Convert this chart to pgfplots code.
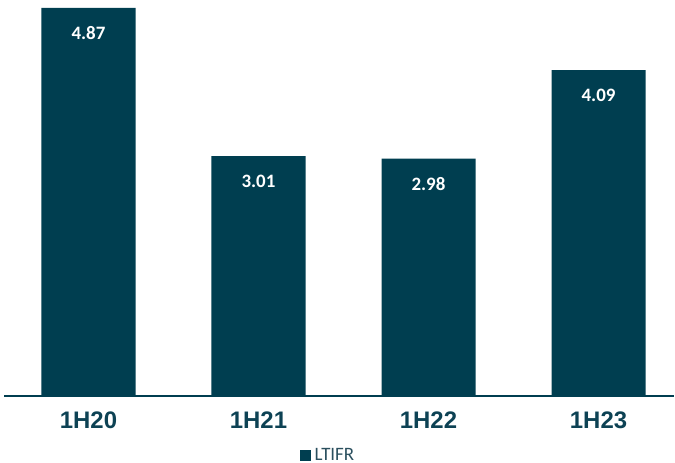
\documentclass[border=0pt]{standalone}
\usepackage{pgfplots}
\pgfplotsset{compat=1.18}
\usepackage{fontspec}
\setmainfont{Liberation Sans}
\newfontfamily\carlito{Carlito}
\definecolor{teal1}{HTML}{003E50}
\definecolor{labc}{HTML}{0D4254}
\definecolor{legc}{HTML}{2A4F5E}
\begin{document}
\begin{tikzpicture}
\begin{axis}[
  at={(4bp,67bp)}, anchor=south west,
  scale only axis, width=670bp, height=396bp,
  xmin=-0.497, xmax=3.444, ymin=0, ymax=4.97,
  axis y line=none,
  axis x line*=bottom,
  x axis line style={draw=teal1, line width=1.2bp, -},
  xtick=data,
  xticklabels={1H20,1H21,1H22,1H23},
  xtick style={draw=none},
  xticklabel style={font=\fontsize{24}{28}\selectfont\bfseries, text=labc, yshift=-12bp},
  bar width=0.553,
  nodes near coords,
  nodes near coords style={font=\carlito\fontsize{19}{22}\selectfont\bfseries, text=white, anchor=center, yshift=-25bp, /pgf/number format/.cd, fixed, fixed zerofill, precision=2, assume math mode=true},
  legend style={draw=none, fill=none, at={(0.485,-0.149)}, anchor=center, font=\carlito\fontsize{19}{22}\selectfont, text=legc, inner sep=1pt, nodes={inner xsep=4bp}},
  legend image code/.code={\fill[teal1] (0bp,-5.5bp) rectangle (11bp,5.5bp);},
]
\addplot[ybar, fill=teal1, draw=none] coordinates {(0,4.87) (1,3.01) (2,2.98) (3,4.09)};
\addlegendentry{LTIFR}
\end{axis}
\pgfresetboundingbox
\path (0,0) rectangle (675bp,463bp);
\end{tikzpicture}
\end{document}
